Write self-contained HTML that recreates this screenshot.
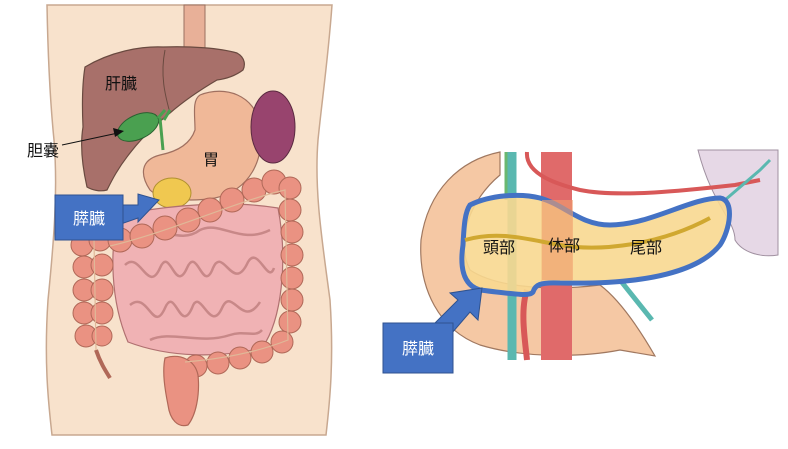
<!DOCTYPE html>
<html><head><meta charset="utf-8"><style>
html,body{margin:0;padding:0;background:#fff;width:788px;height:449px;overflow:hidden}
svg{display:block}
text{font-family:"Liberation Sans","Noto Sans CJK JP",sans-serif}
</style></head><body>
<svg width="788" height="449" viewBox="0 0 788 449" xmlns="http://www.w3.org/2000/svg">
<!-- LEFT: body -->
<path d="M47 5 L332 5 C328 60 322 100 318 140 C314 190 322 240 330 300 C334 360 330 400 326 435 L52 435 C48 400 44 360 48 300 C54 240 58 190 54 140 C50 100 48 60 47 5 Z" fill="#f8e2cc" stroke="#c8a890" stroke-width="1.5"/>
<rect x="184" y="5" width="21" height="50" fill="#e8b098" stroke="#9a7060"/>
<!-- liver -->
<path d="M85 67 C110 52 140 46 163 47 C190 46 220 48 237 53 C246 58 245 66 243 70 C235 76 225 79 217 80 C200 90 185 100 170 113 C155 125 140 140 130 153 C118 168 112 180 107 190 C100 192 92 190 87 187 C82 165 80 145 83 127 C82 105 82 85 85 67 Z" fill="#a8706a" stroke="#6a4a40" stroke-width="1.2"/>
<path d="M165 50 C160 75 165 95 170 113" fill="none" stroke="#6a4a40"/>
<!-- stomach -->
<path d="M200 95 C225 85 255 95 260 125 C265 160 250 190 215 198 C190 202 160 200 150 190 C140 175 140 160 160 155 C175 152 190 145 195 130 C195 115 192 100 200 95 Z" fill="#f0b898" stroke="#a07060" stroke-width="1.2"/>
<!-- spleen -->
<ellipse cx="273" cy="127" rx="22" ry="36" fill="#98446e" stroke="#5a2a40"/>
<!-- gallbladder -->
<ellipse cx="138" cy="127" rx="22" ry="12" transform="rotate(-25 138 127)" fill="#4aa050" stroke="#2a6030"/>
<path d="M160 118 L163 150 M158 118 L165 110 M164 120 L170 110" stroke="#4aa050" stroke-width="3" fill="none"/>
<!-- pancreas -->
<ellipse cx="172" cy="193" rx="19" ry="15" fill="#f0c850" stroke="#b09030"/>
<!-- small intestines -->
<path d="M118 215 C170 205 230 200 278 208 C288 260 282 320 262 348 C220 358 170 358 128 342 C110 300 110 250 118 215 Z" fill="#f0b2b4" stroke="#b07070" stroke-width="1.2"/>
<g fill="none" stroke="#c88888" stroke-width="2.5">
<path d="M125 265 C140 250 148 295 160 268 C170 245 175 295 187 268 C197 245 203 295 213 268 C223 245 233 295 248 262 C258 245 268 285 274 268"/>
<path d="M130 305 C148 290 153 335 165 308 C175 285 180 335 192 308 C200 285 210 335 222 308 C232 285 242 330 260 302"/>
<path d="M135 232 C160 225 180 245 200 230 C220 220 240 245 270 230"/>
<path d="M150 340 C170 330 200 345 230 335 C245 330 255 338 262 330"/>
</g>
<!-- colon -->
<g fill="#ea9282" stroke="#b06858" stroke-width="1">
<circle cx="82" cy="245" r="11"/><circle cx="100" cy="240" r="11"/>
<circle cx="84" cy="267" r="11"/><circle cx="102" cy="265" r="11"/>
<circle cx="84" cy="290" r="11"/><circle cx="102" cy="290" r="11"/>
<circle cx="84" cy="313" r="11"/><circle cx="102" cy="313" r="11"/>
<circle cx="86" cy="336" r="11"/><circle cx="102" cy="336" r="10"/>
<circle cx="120" cy="240" r="12"/><circle cx="142" cy="236" r="12"/><circle cx="165" cy="228" r="12"/>
<circle cx="188" cy="220" r="12"/><circle cx="210" cy="210" r="12"/><circle cx="232" cy="200" r="12"/>
<circle cx="254" cy="190" r="12"/><circle cx="274" cy="182" r="12"/><circle cx="290" cy="188" r="11"/>
<circle cx="290" cy="210" r="11"/><circle cx="292" cy="232" r="11"/><circle cx="292" cy="255" r="11"/>
<circle cx="292" cy="278" r="11"/><circle cx="292" cy="300" r="11"/><circle cx="290" cy="322" r="11"/>
<circle cx="282" cy="342" r="11"/><circle cx="262" cy="352" r="11"/><circle cx="240" cy="358" r="11"/>
<circle cx="218" cy="363" r="11"/><circle cx="196" cy="366" r="11"/>
</g>
<path d="M96 350 C100 362 105 370 110 378" stroke="#b06858" stroke-width="4" fill="none"/>
<path d="M165 358 C180 353 195 360 198 375 C200 395 196 415 188 425 C178 428 170 420 168 405 C165 390 162 372 165 358 Z" fill="#ea9282" stroke="#b06858" stroke-width="1.2"/>
<g fill="none" stroke="#e0b898" stroke-width="1.2">
<path d="M94 240 L96 350"/><path d="M110 246 C170 232 240 200 285 190 L288 340 C250 355 210 360 185 362"/>
</g>
<!-- labels left -->
<text x="105" y="89" font-size="16" fill="#111">肝臓</text>
<text x="203" y="165" font-size="16" fill="#111">胃</text>
<text x="27" y="156" font-size="16" fill="#111">胆嚢</text>
<line x1="62" y1="145" x2="118" y2="133" stroke="#111" stroke-width="1"/>
<polygon points="124,131 113,128 115,137" fill="#111"/>
<!-- left blue arrow/box -->
<polygon points="118,205 138,205 138,194 159,200 138,222 138,218 118,225" fill="#4472c4" stroke="#2f528f"/>
<rect x="55" y="195" width="68" height="45" fill="#4472c4" stroke="#2f528f"/>
<text x="89" y="224" font-size="16" fill="#fff" text-anchor="middle">膵臓</text>

<!-- RIGHT panel -->
<path d="M698 150 L778 150 L778 255 C760 258 742 252 735 240 C735 220 712 205 698 150 Z" fill="#e6d8e6" stroke="#a090a0"/>
<!-- duodenum -->
<path d="M500 152 C460 160 428 190 421 240 C418 290 440 330 480 345 C530 360 590 356 620 350 L655 356 C640 330 620 300 600 285 C560 290 500 290 470 270 C455 240 470 200 500 175 Z" fill="#f5c8a4" stroke="#a07860" stroke-width="1.2"/>
<!-- vessels -->
<rect x="541" y="152" width="31" height="208" fill="#e06a6a"/>
<path d="M512 152 L512 360" stroke="#5ab8b0" stroke-width="9"/>
<path d="M506 152 L506 200" stroke="#6ab870" stroke-width="3"/>
<path d="M527 152 C525 175 560 185 580 190 C620 198 690 190 735 185 L760 180" stroke="#d85858" stroke-width="4" fill="none"/>
<path d="M527 290 C520 310 525 340 527 360" stroke="#d85858" stroke-width="6" fill="none"/>
<path d="M620 280 L652 320" stroke="#5ab8b0" stroke-width="5"/>
<path d="M725 200 L760 170 L770 160" stroke="#5ab8b0" stroke-width="3" fill="none"/>
<!-- pancreas -->
<path d="M470 205 C490 195 520 193 540 198 C565 205 580 225 610 225 C650 225 690 198 720 198 C735 200 730 230 720 245 C700 270 650 285 560 283 C540 282 535 285 533 292 C530 296 520 295 480 290 C462 285 460 265 463 245 C464 225 465 212 470 205 Z" fill="#f8d890" fill-opacity="0.9" stroke="#4472c4" stroke-width="5"/>
<rect x="542" y="200" width="31" height="80" fill="#f0a070" opacity="0.6"/>
<path d="M465 240 C500 230 530 240 560 245 C600 252 660 245 710 218" stroke="#d0a830" stroke-width="4" fill="none"/>
<!-- labels right -->
<text x="483" y="253" font-size="16" fill="#111">頭部</text>
<text x="548" y="251" font-size="16" fill="#111">体部</text>
<text x="630" y="253" font-size="16" fill="#111">尾部</text>
<!-- right blue arrow/box -->
<polygon points="430,328 458,300 450,293 482,288 478,320 470,312 446,340" fill="#4472c4" stroke="#2f528f"/>
<rect x="383" y="323" width="70" height="50" fill="#4472c4" stroke="#2f528f"/>
<text x="418" y="354" font-size="16" fill="#fff" text-anchor="middle">膵臓</text>
</svg>
</body></html>
